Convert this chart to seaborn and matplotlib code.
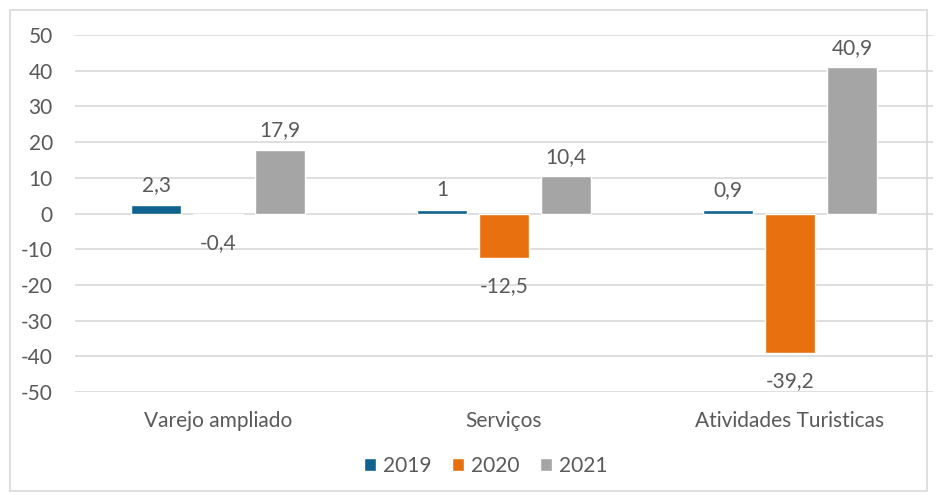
import matplotlib
matplotlib.use("Agg")
import matplotlib.pyplot as plt
import seaborn as sns
import pandas as pd
from matplotlib.patches import Rectangle
from matplotlib.ticker import FuncFormatter

categories = ["Varejo ampliado", "Serviços", "Atividades Turisticas"]
years = ["2019", "2020", "2021"]
v2019 = [2.3, 1.0, 0.9]
v2020 = [-0.4, -12.5, -39.2]
v2021 = [17.9, 10.4, 40.9]
labels2019 = ["2,3", "1", "0,9"]
labels2020 = ["-0,4", "-12,5", "-39,2"]
labels2021 = ["17,9", "10,4", "40,9"]
colors = ["#10628F", "#E8700E", "#A5A5A5"]

rows = []
for c, a, b, d in zip(categories, v2019, v2020, v2021):
    rows += [(c, "2019", a), (c, "2020", b), (c, "2021", d)]
df = pd.DataFrame(rows, columns=["cat", "year", "val"])

sns.set_theme(style="white")
plt.rcParams["font.family"] = ["Lato", "DejaVu Sans"]
txt = "#595959"
fs = 15

fig = plt.figure(figsize=(9.37, 4.95), dpi=100)
ax = fig.add_axes([75 / 937, 1 - 392 / 495, (933 - 75) / 937, 357 / 495])
sns.barplot(data=df, x="cat", y="val", hue="year", order=categories,
            hue_order=years, palette=colors, width=0.65, gap=0.2,
            saturation=1, ax=ax, legend=True, zorder=3)

ax.set_ylim(-50, 50)
ax.set_yticks(range(-50, 51, 10))
ax.yaxis.set_major_formatter(FuncFormatter(lambda v, p: f"{int(round(v))}"))
ax.yaxis.grid(True, color="#D9D9D9", linewidth=1.2, zorder=0)
ax.set_axisbelow(True)
for s in ax.spines.values():
    s.set_visible(False)
ax.set_xlabel("")
ax.set_ylabel("")
ax.tick_params(axis="y", length=0, pad=16, labelsize=fs, labelcolor=txt)
ax.tick_params(axis="x", length=0, pad=14, labelsize=fs, labelcolor=txt)

all_labels = [labels2019, labels2020, labels2021]
for container, labs in zip(ax.containers, all_labels):
    for bar, lab in zip(container, labs):
        h = bar.get_height()
        x = bar.get_x() + bar.get_width() / 2
        if h >= 0:
            ax.annotate(lab, (x, h), xytext=(0, 7), textcoords="offset points",
                        ha="center", va="bottom", fontsize=fs, color=txt)
        else:
            ax.annotate(lab, (x, h), xytext=(0, -13), textcoords="offset points",
                        ha="center", va="top", fontsize=fs, color=txt)

leg = ax.legend(loc="center", bbox_to_anchor=(486 / 937, 1 - 466 / 495), bbox_transform=fig.transFigure,
                ncol=3, frameon=False, fontsize=fs, handlelength=0.55, handleheight=0.55,
                handletextpad=0.35, columnspacing=1.0)
for t in leg.get_texts():
    t.set_color(txt)

fig.patches.append(Rectangle((10 / 937, 4 / 495), 1 - 20 / 937, 1 - 14 / 495,
                             transform=fig.transFigure, fill=False,
                             edgecolor="#D9D9D9", linewidth=1.2))
fig.savefig("out.png", dpi=100)
